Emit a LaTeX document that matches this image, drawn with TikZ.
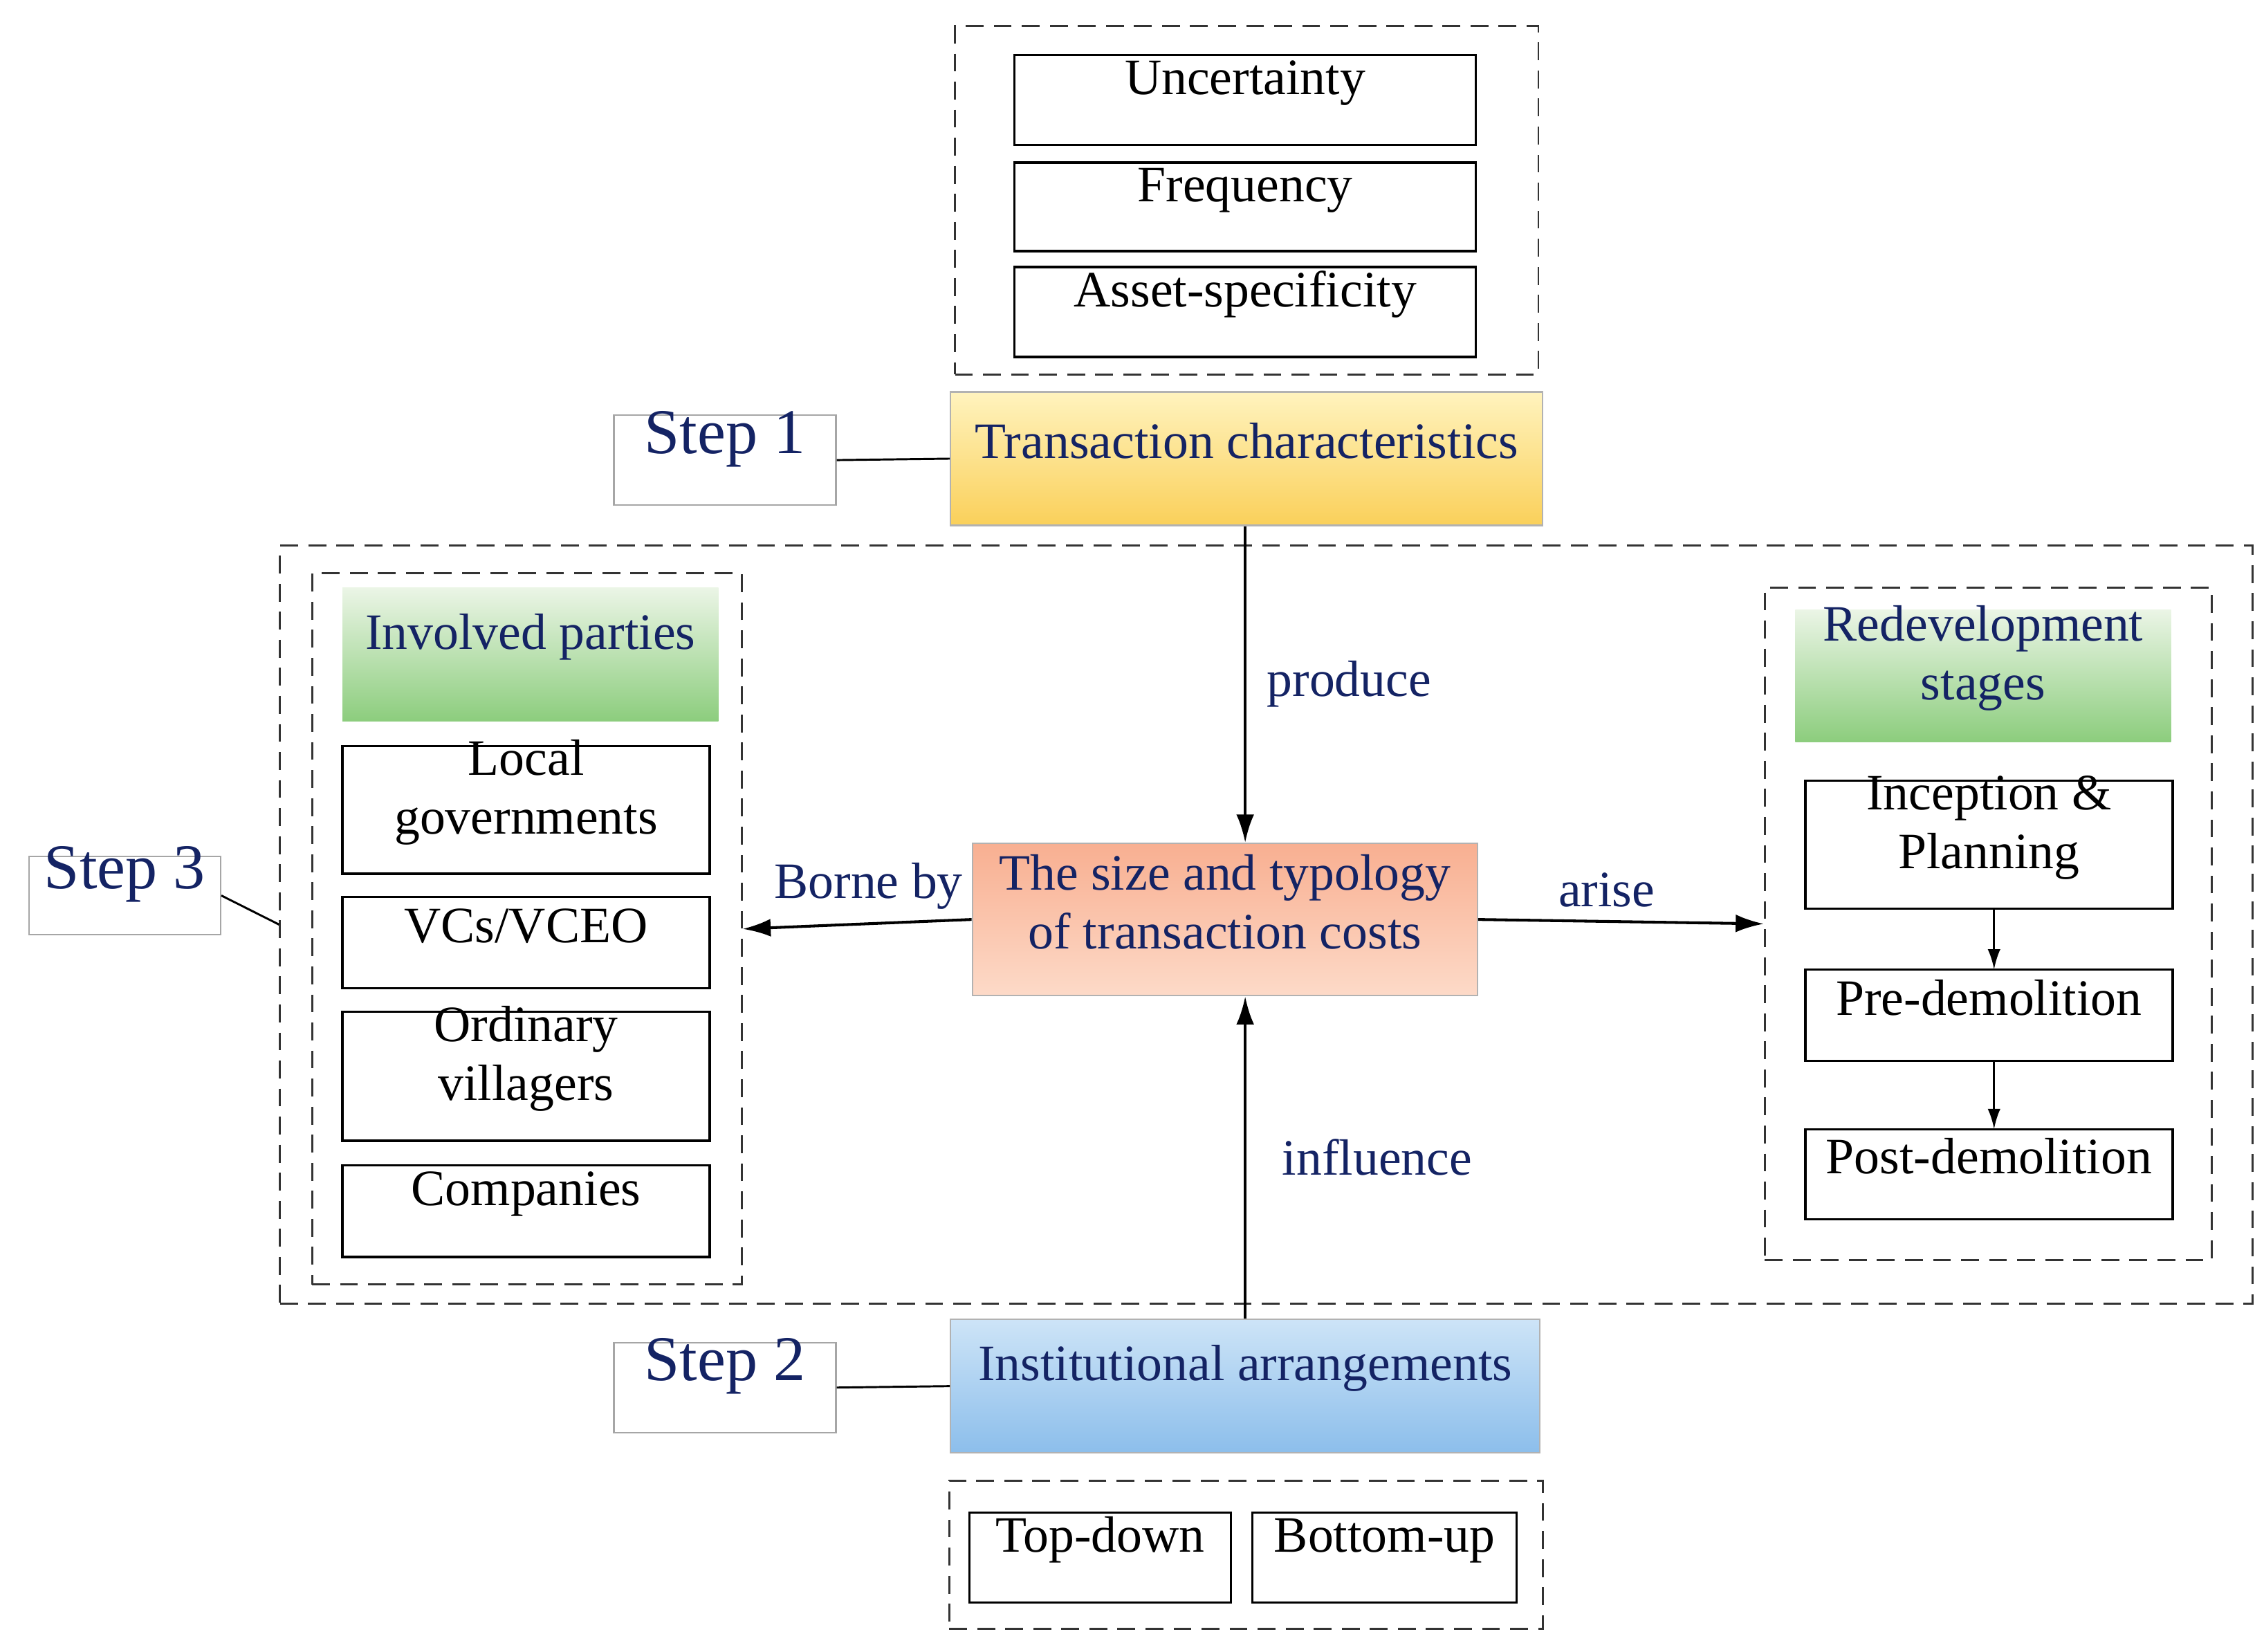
\documentclass[tikz,border=0pt]{standalone}
\usepackage{fontspec}
\setmainfont{Liberation Serif}
\usetikzlibrary{fit,arrows.meta}
\definecolor{navy}{RGB}{20,35,100}
\begin{document}
\begin{tikzpicture}[x=0.02cm,y=-0.02cm,
  every node/.style={font=\fontsize{20}{23}\selectfont, align=center, inner sep=0pt},
  wb/.style={draw=black, line width=0.9pt},
  db/.style={draw=black!80, dashed, dash pattern=on 7pt off 4pt, line width=0.8pt},
  cb/.style={draw=black!30, line width=0.6pt, text=navy},
  st/.style={draw=black!35, line width=0.6pt, text=navy, font=\fontsize{25}{28}\selectfont},
  ar/.style={-{Latex[length=11pt,width=7pt]}, line width=1.1pt},
  lab/.style={text=navy}]
\useasboundingbox (0,0) rectangle (1560,1138);
% top group
\node[db, fit={(658,18)(1060,258)}] (tg) {};
\node[wb, fit={(699,38)(1017,100)}] (u) {Uncertainty};
\node[wb, fit={(699,112)(1017,173)}] (f) {Frequency};
\node[wb, fit={(699,184)(1017,246)}] (a) {Asset-specificity};
\node[cb, top color={rgb,255:red,255;green,243;blue,190}, bottom color={rgb,255:red,250;green,208;blue,90}, fit={(655,270)(1063,362)}] (tc) {Transaction characteristics};
\node[st, fit={(423,286)(576,348)}] (s1) {Step 1};
\draw[line width=0.8pt] (s1.east) -- (tc.west);
% big group
\node[db, fit={(193,376)(1552,898)}] (big) {};
\node[db, fit={(215,395)(511,885)}] (lg) {};
\node[cb, draw=none, top color={rgb,255:red,235;green,245;blue,230}, bottom color={rgb,255:red,140;green,205;blue,125}, fit={(236,405)(495,497)}] (ip) {Involved parties};
\node[wb, fit={(236,514)(489,602)}] (lo) {Local\\governments};
\node[wb, fit={(236,618)(489,681)}] (vc) {VCs/VCEO};
\node[wb, fit={(236,697)(489,786)}] (ov) {Ordinary\\villagers};
\node[wb, fit={(236,803)(489,866)}] (co) {Companies};
\node[db, fit={(1216,405)(1524,868)}] (rg) {};
\node[cb, draw=none, top color={rgb,255:red,235;green,245;blue,230}, bottom color={rgb,255:red,140;green,205;blue,125}, fit={(1237,420)(1496,511)}] (rs) {Redevelopment\\stages};
\node[wb, fit={(1244,538)(1497,626)}] (ipl) {Inception \&\\Planning};
\node[wb, fit={(1244,668)(1497,731)}] (pre) {Pre-demolition};
\node[wb, fit={(1244,778)(1497,840)}] (post) {Post-demolition};
\draw[-{Latex[length=8pt,width=5pt]}, line width=0.9pt] (1374,626) -- (1374,668);
\draw[-{Latex[length=8pt,width=5pt]}, line width=0.9pt] (1374,731) -- (1374,778);
\node[cb, top color={rgb,255:red,248;green,175;blue,145}, bottom color={rgb,255:red,253;green,218;blue,200}, fit={(670,581)(1018,686)}] (c) {The size and typology\\of transaction costs};
\node[st, fit={(20,590)(152,644)}] (s3) {Step 3};
\draw[line width=0.8pt] (s3.east) -- (big.west);
% bottom
\node[cb, top color={rgb,255:red,205;green,228;blue,247}, bottom color={rgb,255:red,140;green,190;blue,235}, fit={(655,909)(1061,1001)}] (ia) {Institutional arrangements};
\node[st, fit={(423,925)(576,987)}] (s2) {Step 2};
\draw[line width=0.8pt] (s2.east) -- (ia.west);
\node[db, fit={(654,1020)(1063,1122)}] (bg) {};
\node[wb, fit={(668,1042)(848,1104)}] (td) {Top-down};
\node[wb, fit={(863,1042)(1045,1104)}] (bu) {Bottom-up};
% arrows
\draw[ar] (tc.south -| 858,0) -- (c.north -| 858,0) node[lab, midway, right=8pt] {produce};
\draw[ar] (ia.north -| 858,0) -- (c.south -| 858,0) node[lab, midway, right=14pt] {influence};
\draw[ar] (c.west) -- (lg.east) node[lab, pos=0.45, above=5pt] {Borne by};
\draw[ar] (c.east) -- (rg.west) node[lab, pos=0.45, above=5pt] {arise};
\end{tikzpicture}
\end{document}
